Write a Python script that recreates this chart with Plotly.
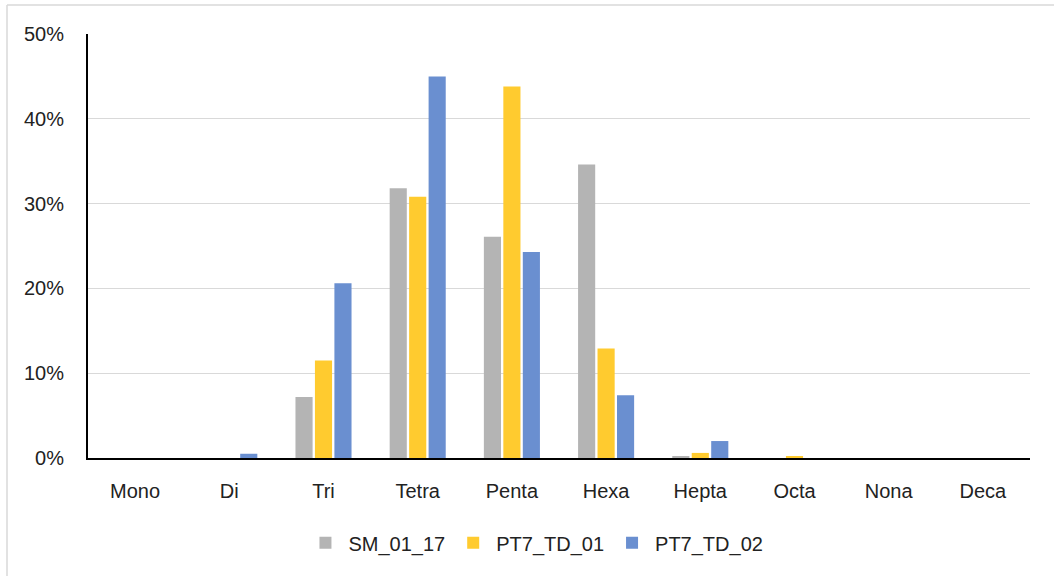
import plotly.graph_objects as go

categories = ['Mono', 'Di', 'Tri', 'Tetra', 'Penta', 'Hexa', 'Hepta', 'Octa', 'Nona', 'Deca']
sm_01_17 = [0.0, 0.0, 7.2, 31.8, 26.1, 34.6, 0.15, 0.0, 0.0, 0.0]
pt7_td_01 = [0.0, 0.0, 11.5, 30.8, 43.8, 12.9, 0.6, 0.2, 0.0, 0.0]
pt7_td_02 = [0.0, 0.5, 20.6, 45.0, 24.3, 7.4, 2.0, 0.0, 0.0, 0.0]
y_ticks = [0, 10, 20, 30, 40, 50]

series = [('SM_01_17', sm_01_17, '#B4B4B4'),
          ('PT7_TD_01', pt7_td_01, '#FFCB2F'),
          ('PT7_TD_02', pt7_td_02, '#6A8FD0')]

fig = go.Figure()
for name, vals, color in series:
    fig.add_trace(go.Bar(x=categories, y=vals, name=name, marker_color=color,
                         marker_line_width=0))

fig.update_layout(
    width=1054, height=576,
    plot_bgcolor='#FFFFFF', paper_bgcolor='#FFFFFF',
    font=dict(family='Liberation Sans, Arial, sans-serif', size=20, color='#222222'),
    margin=dict(l=88, r=24, t=34, b=118),
    barmode='group', bargap=0.38, bargroupgap=0.12,
    showlegend=True,
    legend=dict(orientation='h', x=0.475, xanchor='center', y=-0.2, yanchor='middle',
                font=dict(size=20), itemwidth=36, traceorder='normal'),
)
fig.update_yaxes(range=[0, 50], tickvals=y_ticks, ticktext=[f'{t}%' for t in y_ticks],
                 showgrid=True, gridcolor='#D9D9D9', gridwidth=1,
                 showline=True, linecolor='#000000', linewidth=2,
                 zeroline=False, ticks='', ticklabelstandoff=18)
fig.update_xaxes(showline=True, linecolor='#000000', linewidth=2, ticks='',
                 ticklabelstandoff=14)

# light frame: top and left edges of the chart box
fig.add_shape(type='line', xref='paper', yref='paper',
              x0=-81 / 942, x1=1.1, y0=1 + 29 / 424, y1=1 + 29 / 424,
              line=dict(color='#D9D9D9', width=1.5))
fig.add_shape(type='line', xref='paper', yref='paper',
              x0=-81 / 942, x1=-81 / 942, y0=1 + 29 / 424, y1=-0.3,
              line=dict(color='#D9D9D9', width=1.5))

fig.write_html('out.html', config={'displayModeBar': False},
               post_script="document.body.style.margin='0';")
